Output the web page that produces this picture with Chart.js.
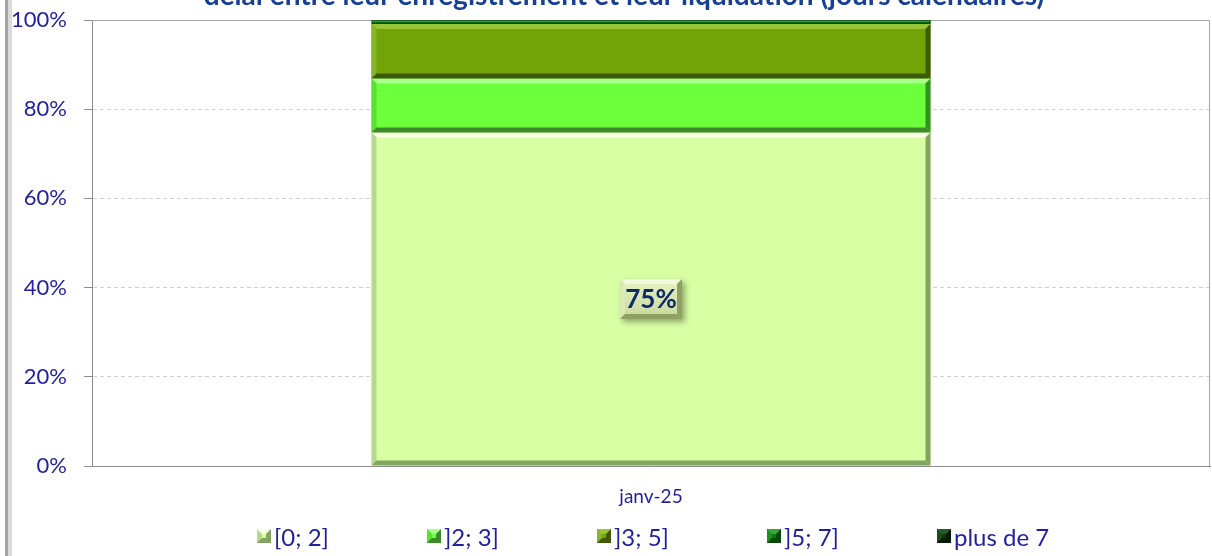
<!DOCTYPE html>
<html><head><meta charset="utf-8">
<script src="https://cdn.jsdelivr.net/npm/chart.js@4"></script>
<style>
html,body{margin:0;padding:0;background:#fff;}
#wrap{position:relative;width:1212px;height:556px;overflow:hidden;background:#fff;}
#c{position:absolute;left:0;top:0;}
.f1{position:absolute;left:5px;top:0;width:3px;height:556px;background:#a4a4a4;}
.f2{position:absolute;left:8px;top:0;width:4px;height:556px;background:#dadada;}
#legend{position:absolute;top:521px;left:0;width:1212px;height:30px;font-family:Lato,"Noto Sans",sans-serif;font-size:24px;color:#1f1fa0;}
.item{position:absolute;top:0;display:flex;align-items:center;height:30px;white-space:nowrap;}
.box{width:4px;height:4px;border:5px solid;margin-right:3px;}
</style></head>
<body>
<div id="wrap">
<canvas id="c" width="1212" height="556"></canvas>
<div class="f1"></div><div class="f2"></div>
<div id="legend"></div>
</div>
<script>
const categories = ['janv-25'];
const seriesNames = ['[0; 2]', ']2; 3]', ']3; 5]', ']5; 7]', 'plus de 7'];
const s02 = [74.8];
const s23 = [12.1];
const s35 = [12.2];
const s57 = [0.8];
const s7plus = [0.1];
const yTicks = [0, 20, 40, 60, 80, 100];
const titleText = 'délai entre leur enregistrement et leur liquidation (jours calendaires)';

const seriesValues = [s02, s23, s35, s57, s7plus];
const fills = ['#d9ffa4', '#6cff3c', '#72a307', '#0b7d0b', '#0b3a0b'];
const tops = ['#fbffe2', '#a6ff86', '#98c43a', '#3aa33a', '#2a5a2a'];
const lefts = ['#b6d98e', '#58e032', '#86b628', '#1e8f1e', '#1c4a1c'];
const darks = ['#84a462', '#3d8c2a', '#3e5a08', '#064806', '#041a04'];
const FONT = 'Lato, "Noto Sans", sans-serif';
const TXT = '#1f1fa0';

// HTML legend
const lg = document.getElementById('legend');
seriesNames.forEach((n, i) => {
  const it = document.createElement('div');
  it.className = 'item';
  it.style.left = (257 + i * 170) + 'px';
  const b = document.createElement('span');
  b.className = 'box';
  b.style.borderTopColor = tops[i];
  b.style.borderLeftColor = lefts[i];
  b.style.borderRightColor = darks[i];
  b.style.borderBottomColor = darks[i];
  b.style.background = fills[i];
  const t = document.createElement('span');
  t.textContent = n;
  it.appendChild(b); it.appendChild(t);
  lg.appendChild(it);
});

function poly(ctx, pts, color) {
  ctx.beginPath();
  ctx.moveTo(pts[0][0], pts[0][1]);
  for (let k = 1; k < pts.length; k++) ctx.lineTo(pts[k][0], pts[k][1]);
  ctx.closePath();
  ctx.fillStyle = color;
  ctx.fill();
}
function bevelRect(ctx, l, t, r, b, bv, top, left, dark) {
  poly(ctx, [[l, t], [r, t], [r - bv, t + bv], [l + bv, t + bv]], top);
  poly(ctx, [[l, t], [l + bv, t + bv], [l + bv, b - bv], [l, b]], left);
  poly(ctx, [[l, b], [l + bv, b - bv], [r - bv, b - bv], [r, b]], dark);
  poly(ctx, [[r, t], [r, b], [r - bv, b - bv], [r - bv, t + bv]], dark);
}

const decor = {
  id: 'decor',
  beforeDatasetsDraw(chart) {
    const ctx = chart.ctx, a = chart.chartArea;
    ctx.save();
    ctx.strokeStyle = '#a6a6a6';
    ctx.lineWidth = 1;
    ctx.beginPath();
    ctx.moveTo(a.left, a.top + 0.5); ctx.lineTo(a.right - 0.5, a.top + 0.5); ctx.lineTo(a.right - 0.5, a.bottom);
    ctx.stroke();
    ctx.restore();
  },
  afterDatasetsDraw(chart) {
    const ctx = chart.ctx;
    ctx.save();
    chart.data.datasets.forEach((ds, i) => {
      const meta = chart.getDatasetMeta(i);
      meta.data.forEach((el) => {
        const p = el.getProps(['x', 'y', 'base', 'width'], true);
        const l = p.x - p.width / 2, r = p.x + p.width / 2;
        const t = Math.min(p.y, p.base), b = Math.max(p.y, p.base);
        const h = b - t;
        if (h <= 0.2) return;
        const bv = Math.min(5, h / 3);
        bevelRect(ctx, l, t, r, b, bv, tops[i], lefts[i], darks[i]);
      });
    });
    // data label on first series
    const meta0 = chart.getDatasetMeta(0);
    meta0.data.forEach((el, j) => {
      const p = el.getProps(['x', 'y', 'base'], true);
      const cx = p.x, cy = (p.y + p.base) / 2;
      const w = 62, h = 40;
      const l = cx - w / 2, t = cy - h / 2;
      ctx.save();
      ctx.shadowColor = 'rgba(0,0,0,0.35)';
      ctx.shadowBlur = 6; ctx.shadowOffsetX = 3; ctx.shadowOffsetY = 3;
      const g = ctx.createLinearGradient(0, t, 0, t + h);
      g.addColorStop(0, '#e8f4c4'); g.addColorStop(1, '#c6d89c');
      ctx.fillStyle = g;
      ctx.fillRect(l, t, w, h);
      ctx.restore();
      bevelRect(ctx, l, t, l + w, t + h, 5, '#f2f9dc', '#dbe8b8', '#8fa262');
      ctx.fillStyle = '#0e2a6b';
      ctx.font = 'bold 26px ' + FONT;
      ctx.textAlign = 'center'; ctx.textBaseline = 'middle';
      ctx.fillText(Math.round(chart.data.datasets[0].data[j]) + '%', cx, cy + 1);
    });
    ctx.restore();
  },
  afterDraw(chart) {
    const ctx = chart.ctx;
    ctx.save();
    ctx.font = 'bold 28px ' + FONT;
    ctx.fillStyle = '#173f96';
    ctx.textAlign = 'center';
    ctx.textBaseline = 'alphabetic';
    ctx.fillText(titleText, 624, 5);
    ctx.restore();
  }
};

new Chart(document.getElementById('c'), {
  type: 'bar',
  data: {
    labels: categories,
    datasets: seriesNames.map((n, i) => ({
      label: n,
      data: seriesValues[i],
      backgroundColor: fills[i],
      borderWidth: 0,
      barPercentage: 1,
      categoryPercentage: 0.5
    }))
  },
  options: {
    responsive: false,
    animation: false,
    events: [],
    layout: { padding: { top: 20, right: 2, left: 0, bottom: 0 } },
    plugins: { legend: { display: false }, title: { display: false }, tooltip: { enabled: false } },
    scales: {
      x: {
        stacked: true,
        grid: { display: false, drawTicks: false },
        border: { display: true, color: '#8c8c8c', width: 1 },
        ticks: { color: TXT, font: { family: FONT, size: 19 }, padding: 19 },
        afterFit(s) { s.height = 90; }
      },
      y: {
        stacked: true,
        min: 0, max: 100,
        afterBuildTicks(s) { s.ticks = yTicks.map(v => ({ value: v })); },
        grid: {
          color: (c) => (c.tick && c.tick.value > 0 && c.tick.value < 100) ? '#d2d2d2' : 'rgba(0,0,0,0)',
          tickColor: '#8c8c8c',
          tickLength: 8,
          drawTicks: true
        },
        border: { display: true, color: '#8c8c8c', width: 1, dash: [4, 3] },
        ticks: { color: TXT, font: { family: FONT, size: 22 }, padding: 17, callback: (v) => v + '%' },
        afterFit(s) { s.width = 92; s.paddingTop = 0; s.paddingBottom = 0; }
      }
    }
  },
  plugins: [decor]
});
</script>
</body></html>
